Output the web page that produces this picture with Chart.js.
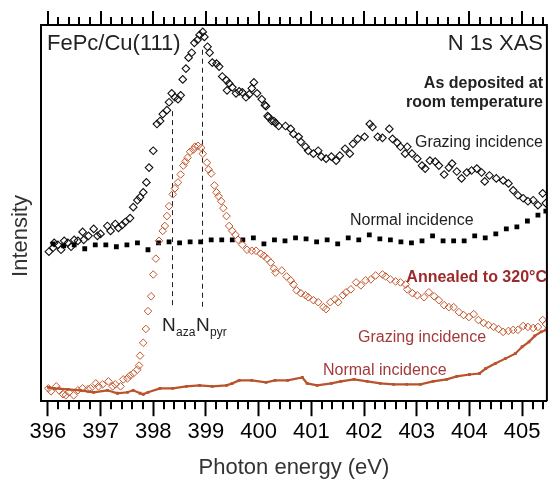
<!DOCTYPE html>
<html>
<head>
<meta charset="utf-8">
<script src="https://cdn.jsdelivr.net/npm/chart.js@4.4.0/dist/chart.umd.min.js"></script>
<style>
  html, body { margin: 0; padding: 0; background: #fff; }
  #wrap { width: 552px; height: 485px; }
</style>
</head>
<body>
<div id="wrap"><canvas id="xas"></canvas></div>
<script>
// N 1s XAS of FePc/Cu(111): photon energy (eV) and intensity (arb. units)

// as deposited, grazing incidence (open diamonds)
const depGrazE = [396.02,396.10,396.12,396.19,396.25,396.31,396.38,396.44,396.50,396.57,396.66,396.68,396.77,396.87,396.94,397.00,
  397.13,397.19,397.28,397.34,397.41,397.47,397.56,397.62,397.70,397.75,397.81,397.87,397.92,398.00,398.07,398.13,398.18,398.26,
  398.30,398.35,398.41,398.47,398.52,398.56,398.62,398.67,398.73,398.78,398.84,398.88,398.94,398.97,399.03,399.07,399.12,399.20,
  399.25,399.31,399.39,399.40,399.44,399.50,399.57,399.63,399.69,399.76,399.82,399.87,399.91,399.97,400.06,400.12,400.14,400.17,
  400.19,400.25,400.29,400.32,400.38,400.51,400.61,400.66,400.76,400.80,400.89,400.94,401.04,401.13,401.19,401.28,401.38,401.47,
  401.54,401.64,401.73,401.79,401.88,402.01,402.11,402.16,402.26,402.35,402.48,402.54,402.63,402.69,402.78,402.82,402.91,403.01,
  403.10,403.16,403.25,403.35,403.42,403.52,403.61,403.67,403.76,403.85,403.95,404.04,404.14,404.23,404.29,404.38,404.51,404.64,
  404.74,404.83,404.92,405.02,405.11,405.21,405.30,405.39,405.45];
const depGrazI = [151,155,160,158,153,162,160,156,163,162,171,163,167,174,167,169,
  177,172,179,175,178,181,185,196,203,206,211,221,236,253,280,283,290,294,
  302,311,307,305,309,325,336,347,352,362,365,370,373,368,358,352,342,341,
  338,328,324,314,321,317,311,313,312,307,310,316,322,311,305,299,298,288,
  287,283,283,281,278,278,275,270,267,262,257,253,250,253,247,245,247,243,
  248,255,250,260,265,267,280,277,267,266,275,265,261,257,250,257,250,245,
  238,235,243,242,238,229,236,240,232,225,231,233,235,231,222,228,225,223,
  220,213,208,205,202,203,198,210,200];

// as deposited, normal incidence (filled squares)
const depNormE = [396.1,396.3,396.5,396.7,396.9,397.1,397.3,397.5,397.7,397.9,398.1,398.3,398.5,398.7,398.9,399.1,399.3,399.5,
  399.7,399.9,400.1,400.3,400.5,400.7,400.9,401.1,401.3,401.5,401.7,401.9,402.1,402.3,402.5,402.7,402.9,403.1,403.3,403.5,
  403.7,403.9,404.1,404.3,404.5,404.7,404.9,405.1,405.3,405.45];
const depNormI = [159,157,158,154,158,158,156,158,160,153,160,161,160,161,161,163,163,163,
  163,165,159,163,162,165,164,161,163,159,165,163,168,164,163,161,160,162,167,162,
  162,162,167,165,169,174,176,182,188,192];

// annealed to 320 C, grazing incidence (open diamonds)
const annGrazE = [396.01,396.06,396.16,396.21,396.29,396.34,396.40,396.49,396.57,396.66,396.76,396.81,396.91,396.96,397.04,397.15,
  397.23,397.28,397.38,397.43,397.51,397.56,397.62,397.70,397.73,397.75,397.81,397.86,397.90,397.96,398.00,398.05,398.11,398.18,
  398.22,398.26,398.30,398.37,398.41,398.47,398.52,398.57,398.61,398.65,398.70,398.76,398.79,398.85,398.91,398.94,399.02,399.05,
  399.10,399.16,399.20,399.24,399.29,399.33,399.39,399.44,399.50,399.56,399.61,399.69,399.78,399.87,399.95,400.04,400.10,400.16,
  400.23,400.29,400.32,400.44,400.53,400.61,400.66,400.72,400.80,400.89,400.94,401.04,401.13,401.23,401.28,401.36,401.45,401.51,
  401.60,401.66,401.75,401.85,401.94,402.03,402.13,402.22,402.35,402.41,402.50,402.60,402.69,402.79,402.82,402.92,403.01,403.14,
  403.23,403.33,403.42,403.52,403.61,403.70,403.80,403.89,403.99,404.08,404.17,404.27,404.36,404.46,404.55,404.64,404.74,404.83,
  404.92,405.02,405.11,405.21,405.30,405.39,405.45];
const annGrazI = [13,10,15,11,7,6,9,6,11,13,12,13,18,15,17,20,
  15,17,15,22,23,26,28,32,36,46,59,73,91,106,128,144,162,172,
  177,187,197,209,215,221,229,238,242,246,252,254,257,258,256,250,241,234,
  230,218,211,207,202,195,187,177,172,168,163,158,153,152,152,149,147,144,
  140,134,130,132,126,122,118,112,109,107,105,102,100,95,93,100,103,100,
  107,110,113,120,117,122,123,127,128,126,123,121,120,118,113,109,107,105,
  110,106,102,97,95,95,90,87,85,88,82,79,77,75,73,70,71,72,
  72,76,75,74,75,82,78];

// annealed to 320 C, normal incidence (small filled squares)
const annNormE = [396.01,396.12,396.38,396.62,396.87,397.13,397.32,397.51,397.62,397.75,397.81,397.90,398.13,398.37,398.63,398.88,
  399.12,399.39,399.50,399.63,399.87,400.14,400.31,400.55,400.83,400.92,401.11,401.38,401.56,401.81,402.06,402.31,402.56,402.81,
  403.07,403.31,403.57,403.76,404.00,404.19,404.31,404.49,404.68,404.87,405.00,405.13,405.24,405.36,405.45];
const annNormI = [14,13,12,11,9,11,8,9,11,8,7,9,13,13,15,16,
  15,16,18,21,21,19,21,21,24,18,16,18,20,22,20,18,17,17,
  17,20,22,25,27,28,33,38,43,48,55,60,66,70,72];

// N aza / N pyr markers: energy, top of dashed line, bottom of dashed line
const peakE = [398.35, 398.93];
const peakTop = [293, 355];
const peakBottom = 95;

const xMin = 395.87, xMax = 405.47;
const FONT = '"Liberation Sans", Arial, sans-serif';

const pts = (es, is) => es.map((e, i) => ({x: e, y: is[i]}));

const decor = {
  id: 'decor',
  beforeDatasetsDraw(chart) {
    const ctx = chart.ctx, xs = chart.scales.x, ys = chart.scales.y;
    ctx.save();
    ctx.strokeStyle = '#222';
    ctx.lineWidth = 1;
    ctx.setLineDash([5, 4]);
    peakE.forEach((e, i) => {
      const px = Math.round(xs.getPixelForValue(e)) + 0.5;
      ctx.beginPath();
      ctx.moveTo(px, ys.getPixelForValue(peakTop[i]));
      ctx.lineTo(px, ys.getPixelForValue(peakBottom));
      ctx.stroke();
    });
    ctx.restore();
  },
  afterDraw(chart) {
    const ctx = chart.ctx, xs = chart.scales.x;
    const a = chart.chartArea;
    ctx.save();
    // frame
    ctx.strokeStyle = '#000';
    ctx.lineWidth = 2;
    ctx.beginPath();
    ctx.moveTo(a.left, a.bottom);
    ctx.lineTo(a.left, a.top);
    ctx.lineTo(a.right, a.top);
    ctx.lineTo(a.right, a.bottom);
    ctx.stroke();
    // minor ticks bottom, all ticks on top
    for (let k = 0; k <= 47; k++) {
      const v = 396 + k * 0.2;
      if (v > xMax) break;
      const px = Math.round(xs.getPixelForValue(v));
      const major = k % 5 === 0;
      ctx.beginPath();
      ctx.moveTo(px, a.top);
      ctx.lineTo(px, a.top - (major ? 14 : 8));
      if (!major) {
        ctx.moveTo(px, a.bottom);
        ctx.lineTo(px, a.bottom + 8);
      }
      ctx.stroke();
    }
    // texts
    ctx.fillStyle = '#222';
    ctx.textBaseline = 'alphabetic';
    ctx.font = '22px ' + FONT;
    ctx.textAlign = 'left';
    ctx.fillText('FePc/Cu(111)', 47, 50);
    ctx.textAlign = 'right';
    ctx.fillText('N 1s XAS', 543, 50);
    ctx.font = 'bold 16px ' + FONT;
    ctx.fillText('As deposited at', 543, 88);
    ctx.fillText('room temperature', 543, 107);
    ctx.font = '16px ' + FONT;
    ctx.fillText('Grazing incidence', 543, 147);
    ctx.textAlign = 'left';
    ctx.fillText('Normal incidence', 350, 225);
    ctx.fillStyle = '#9b2a2a';
    ctx.font = 'bold 16px ' + FONT;
    ctx.textAlign = 'right';
    ctx.fillText('Annealed to 320\u00b0C', 547, 282);
    ctx.fillStyle = '#a33a3a';
    ctx.font = '16px ' + FONT;
    ctx.textAlign = 'left';
    ctx.fillText('Grazing incidence', 358, 342);
    ctx.fillText('Normal incidence', 323, 375);
    // N aza / N pyr labels
    ctx.fillStyle = '#222';
    ctx.font = '19px ' + FONT;
    ctx.fillText('N', 162, 331);
    ctx.fillText('N', 196, 331);
    ctx.font = '12px ' + FONT;
    ctx.fillText('aza', 176, 336);
    ctx.fillText('pyr', 210, 336);
    // y title
    ctx.font = '22px ' + FONT;
    ctx.fillStyle = '#333';
    ctx.translate(21, 236);
    ctx.rotate(-Math.PI / 2);
    ctx.textAlign = 'center';
    ctx.textBaseline = 'middle';
    ctx.fillText('Intensity', 0, 0);
    ctx.restore();
  }
};

const orange = '#c4552c';

new Chart(document.getElementById('xas'), {
  type: 'scatter',
  data: {
    datasets: [
      {
        label: 'annealed normal',
        data: pts(annNormE, annNormI),
        showLine: true,
        borderColor: '#b9532b',
        backgroundColor: '#b9532b',
        borderWidth: 2.2,
        pointStyle: 'rect',
        pointRadius: 2,
        pointBorderWidth: 0
      },
      {
        label: 'annealed grazing',
        data: pts(annGrazE, annGrazI),
        borderColor: orange,
        backgroundColor: 'rgba(0,0,0,0)',
        pointStyle: 'rectRot',
        pointRadius: 3.8,
        pointBorderWidth: 1
      },
      {
        label: 'as deposited normal',
        data: pts(depNormE, depNormI),
        borderColor: '#000',
        backgroundColor: '#000',
        pointStyle: 'rect',
        pointRadius: 3.4,
        pointBorderWidth: 0
      },
      {
        label: 'as deposited grazing',
        data: pts(depGrazE, depGrazI),
        borderColor: '#111',
        backgroundColor: 'rgba(0,0,0,0)',
        pointStyle: 'rectRot',
        pointRadius: 3.8,
        pointBorderWidth: 1.1
      }
    ]
  },
  options: {
    responsive: true,
    maintainAspectRatio: false,
    animation: false,
    layout: { padding: { left: 41, right: 1, top: 25, bottom: 4 } },
    plugins: { legend: { display: false }, tooltip: { enabled: false } },
    scales: {
      x: {
        type: 'linear',
        min: xMin,
        max: xMax,
        grid: { drawOnChartArea: false, tickLength: 15, tickWidth: 2, tickColor: '#000' },
        border: { display: true, width: 2, color: '#000' },
        ticks: {
          stepSize: 1,
          includeBounds: false,
          autoSkip: false,
          maxRotation: 0,
          padding: 3,
          color: '#000',
          font: { size: 22, family: FONT }
        },
        title: {
          display: true,
          text: 'Photon energy (eV)',
          color: '#333',
          font: { size: 22, family: FONT },
          padding: { top: 6, bottom: 0 }
        }
      },
      y: { display: false, min: 0, max: 380 }
    }
  },
  plugins: [decor]
});
</script>
</body>
</html>
